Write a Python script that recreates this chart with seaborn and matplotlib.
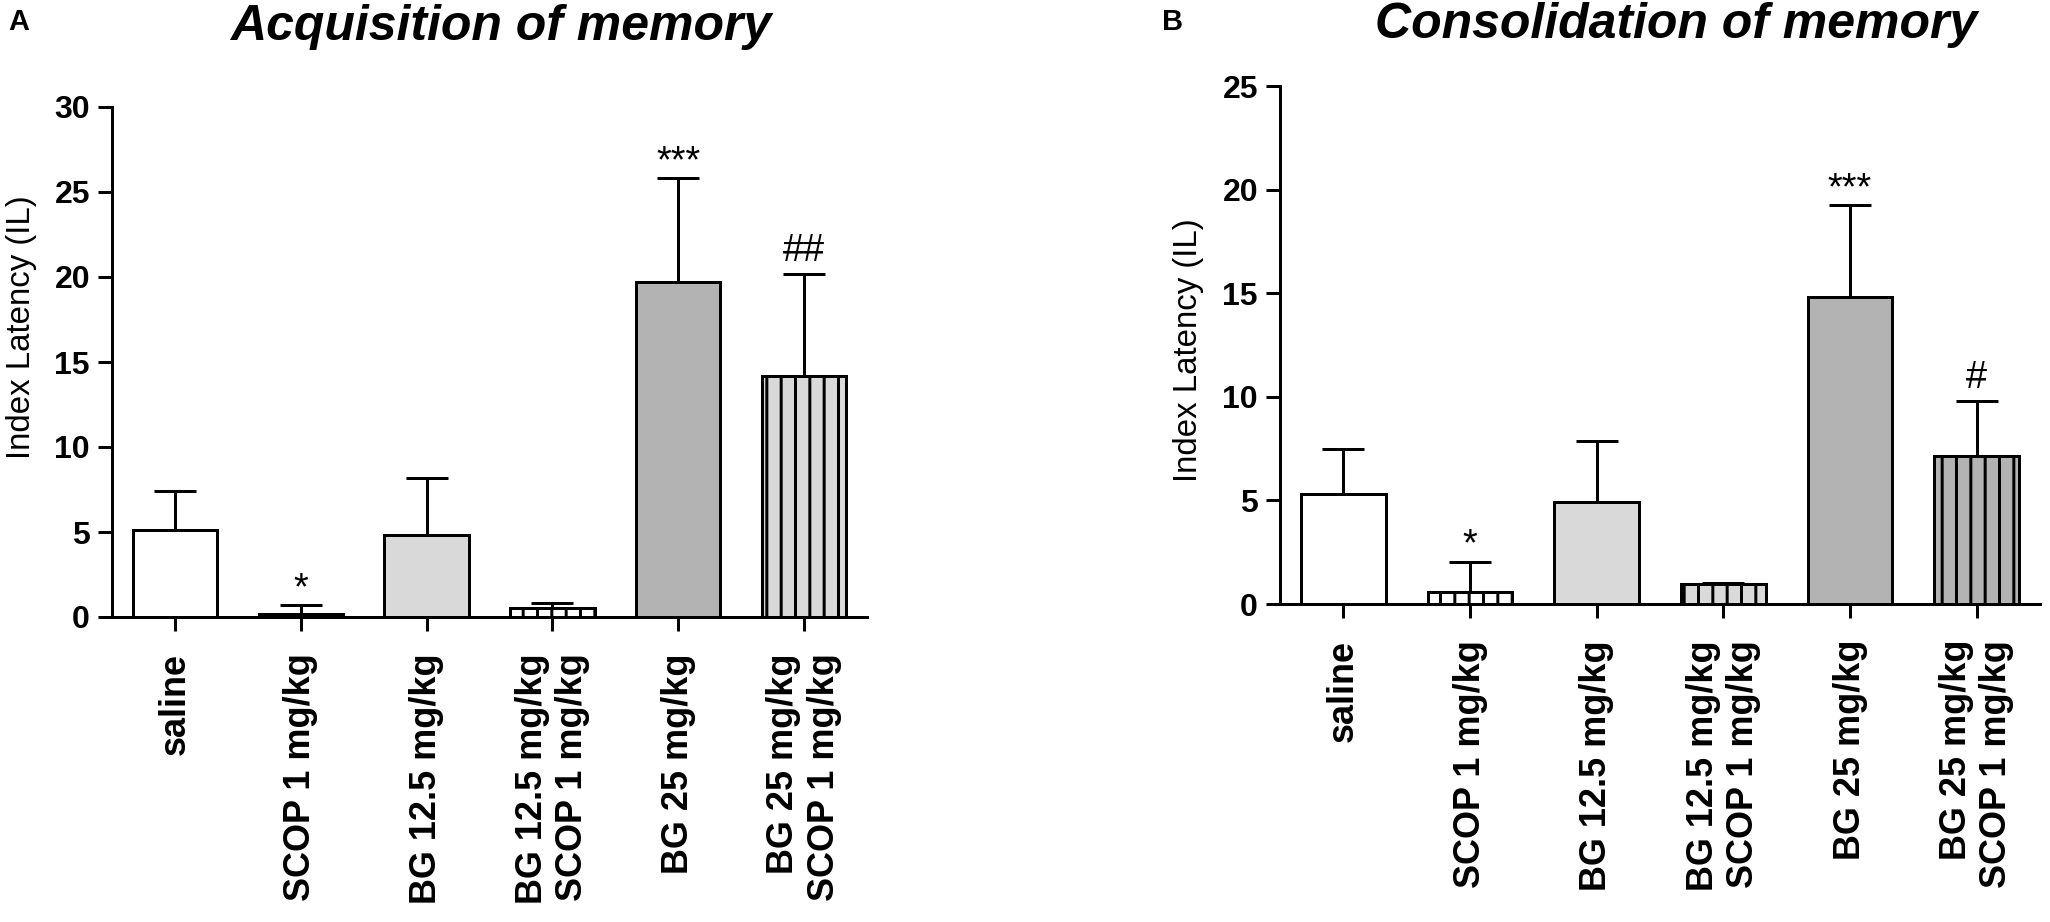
import numpy as np
import pandas as pd
import matplotlib.pyplot as plt
import seaborn as sns

DPI = 86
PT = 72 / DPI  # pixel -> point

groups = ['saline', 'SCOP 1 mg/kg', 'BG 12.5 mg/kg',
          'BG 12.5 mg/kg\nSCOP 1 mg/kg', 'BG 25 mg/kg',
          'BG 25 mg/kg\nSCOP 1 mg/kg']

# acquisition (panel A)
acq_mean = [5.1, 0.15, 4.8, 0.55, 19.7, 14.2]
acq_sem = [2.3, 0.55, 3.4, 0.25, 6.1, 6.0]
acq_marks = ['', '*', '', '', '***', '##']
acq_fill = ['white', 'white', '#d9d9d9', 'white', '#b3b3b3', '#d9d9d9']

# consolidation (panel B)
cons_mean = [5.3, 0.6, 4.9, 0.95, 14.8, 7.15]
cons_sem = [2.2, 1.45, 2.95, 0.05, 4.45, 2.65]
cons_marks = ['', '*', '', '', '***', '#']
cons_fill = ['white', 'white', '#d9d9d9', '#d9d9d9', '#b3b3b3', '#b3b3b3']

hatches = ['', '|', '', '|', '', '|']

sns.set_style('ticks')
plt.rcParams['font.family'] = ['Liberation Sans', 'DejaVu Sans']
plt.rcParams['hatch.linewidth'] = 3 * PT
plt.rcParams['hatch.color'] = 'black'
for k in ['text.color', 'axes.labelcolor', 'axes.edgecolor',
          'xtick.color', 'ytick.color']:
    plt.rcParams[k] = 'black'

fig = plt.figure(figsize=(2050 / DPI, 922 / DPI), dpi=DPI)


def box(l, r, b, t):
    return [l / 2050, 1 - b / 922, (r - l) / 2050, (b - t) / 922]


def panel(ax, mean, sem, fill, marks, ymax):
    df = pd.DataFrame({'group': groups, 'mean': mean})
    sns.barplot(data=df, x='group', y='mean', hue='group', palette=fill,
                legend=False, saturation=1, width=0.67, edgecolor='black',
                linewidth=3 * PT, errorbar=None, ax=ax)
    for bar, h in zip(ax.patches, hatches):
        bar.set_hatch(h)
    x = np.arange(len(groups))
    ax.errorbar(x, mean, yerr=[np.zeros(len(mean)), sem], fmt='none',
                ecolor='black', elinewidth=3 * PT, capsize=21 * PT,
                capthick=3 * PT, zorder=3)
    tops = np.array(mean) + np.array(sem)
    for xi, top, m in zip(x, tops, marks):
        if m:
            off = 13 if '#' in m else 6
            ax.annotate(m, (xi, top), xytext=(0, off * PT),
                        textcoords='offset points', ha='center',
                        va='baseline', fontsize=38 * PT, color='black')

    ax.set_xlim(-0.5, 5.5)
    ax.set_ylim(0, ymax)
    ax.set_yticks(range(0, ymax + 1, 5))
    sns.despine(ax=ax)
    for s in ['left', 'bottom']:
        ax.spines[s].set_linewidth(3 * PT)
        ax.spines[s].set_color('black')
    ax.tick_params(width=3 * PT, length=14 * PT, color='black',
                   labelcolor='black')
    ax.tick_params(axis='y', labelsize=32 * PT, pad=8 * PT)
    ax.tick_params(axis='x', labelsize=36 * PT, pad=22 * PT)
    ax.set_xticks(x)
    ax.set_xticklabels(groups, rotation=90, fontweight='bold',
                       multialignment='right')
    for lab in ax.get_yticklabels():
        lab.set_fontweight('bold')
    ax.set_xlabel('')
    ax.set_ylabel('')


ax_a = fig.add_axes(box(112, 867, 617, 107))
ax_b = fig.add_axes(box(1280, 2040, 604, 86))

panel(ax_a, acq_mean, acq_sem, acq_fill, acq_marks, 30)
panel(ax_b, cons_mean, cons_sem, cons_fill, cons_marks, 25)

fig.text(22 / 2050, 1 - 327 / 922, 'Index Latency (IL)', rotation=90,
         ha='center', va='center', fontsize=33 * PT)
fig.text(1188 / 2050, 1 - 350 / 922, 'Index Latency (IL)', rotation=90,
         ha='center', va='center', fontsize=33 * PT)

fig.text(501 / 2050, 1 - 40 / 922, 'Acquisition of memory', ha='center',
         va='baseline', fontsize=50 * PT, fontweight='bold', fontstyle='italic')
fig.text(1676 / 2050, 1 - 38 / 922, 'Consolidation of memory', ha='center',
         va='baseline', fontsize=50 * PT, fontweight='bold', fontstyle='italic')

fig.text(8 / 2050, 1 - 30 / 922, 'A', ha='left', va='baseline',
         fontsize=29 * PT, fontweight='bold')
fig.text(1162 / 2050, 1 - 30 / 922, 'B', ha='left', va='baseline',
         fontsize=29 * PT, fontweight='bold')

fig.savefig('out.png', dpi=DPI)
